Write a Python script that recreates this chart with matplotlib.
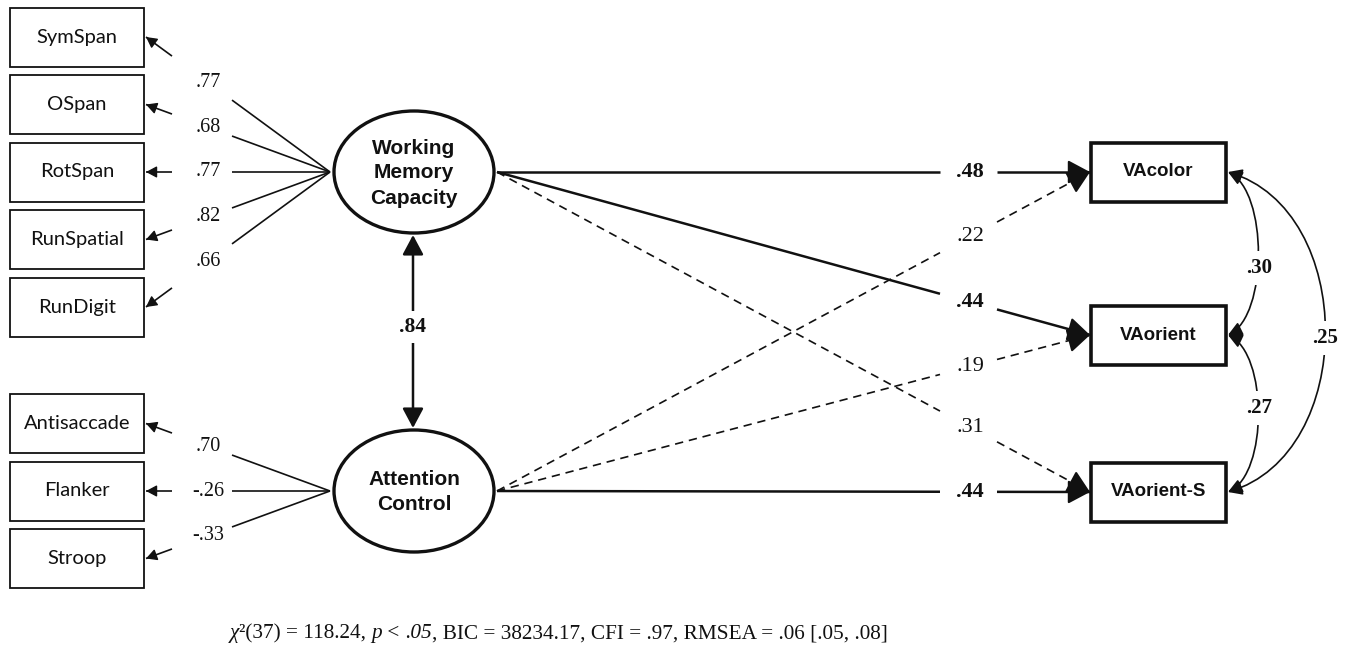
import matplotlib
matplotlib.use('Agg')
import matplotlib.pyplot as plt
from matplotlib.patches import Rectangle, Ellipse, FancyArrowPatch
from matplotlib.path import Path
import numpy as np

# measurement model
wmc_tasks = ['SymSpan', 'OSpan', 'RotSpan', 'RunSpatial', 'RunDigit']
wmc_loadings = [0.77, 0.68, 0.77, 0.82, 0.66]
ac_tasks = ['Antisaccade', 'Flanker', 'Stroop']
ac_loadings = [0.70, -0.26, -0.33]

# structural model
outcomes = ['VAcolor', 'VAorient', 'VAorient-S']
wmc_paths = [0.48, 0.44, 0.31]
wmc_sig = [True, True, False]
ac_paths = [0.22, 0.19, 0.44]
ac_sig = [False, False, True]
latent_corr = 0.84
# residual covariances: color-orient, orient-orientS, color-orientS
resid_cov = [0.30, 0.27, 0.25]

# fit statistics line, split where the font style changes
fit_parts = [('χ', 'italic'), ('²(37) = 118.24, ', 'normal'), ('p', 'italic'),
             (' < ', 'normal'), ('.05', 'italic'),
             (', BIC = 38234.17, CFI = .97, RMSEA = .06 [.05, .08]', 'normal')]

INK = '#111111'
SERIF = 'Liberation Serif'
BOLD_SANS = 'Liberation Sans'


def fmt(v):
    s = f'{abs(v):.2f}'[1:]
    return '-' + s if v < 0 else s


def head(ax, p_from, p_to, size=1.0, lw=1.5):
    # short solid segment that only carries the arrowhead
    d = np.subtract(p_to, p_from)
    d = d / np.hypot(*d)
    start = np.asarray(p_to) - d * 3
    a = FancyArrowPatch(start, p_to,
                        arrowstyle=f'-|>,head_length={0.75*size},head_width={0.4*size}',
                        mutation_scale=14, lw=lw, color=INK,
                        shrinkA=0, shrinkB=0, zorder=4)
    ax.add_patch(a)


def split_path(ax, p0, p1, label, x_label, gap_l, gap_r, lw, ls, bold,
               fs=13, hsize=1.0, hlw=1.5):
    # straight line p0 -> p1 interrupted at x_label by the coefficient
    x0, y0 = p0
    x1, y1 = p1

    def at(x):
        t = (x - x0) / (x1 - x0)
        return x, y0 + t * (y1 - y0)

    going_right = x1 > x0
    xa = x_label - gap_l if going_right else x_label + gap_r
    xb = x_label + gap_r if going_right else x_label - gap_l
    pa, pb = at(xa), at(xb)
    ax.plot([x0, pa[0]], [y0, pa[1]], color=INK, lw=lw, ls=ls,
            solid_capstyle='butt', zorder=3)
    ax.plot([pb[0], x1], [pb[1], y1], color=INK, lw=lw, ls=ls,
            solid_capstyle='butt', zorder=3)
    head(ax, pb, p1, size=hsize, lw=hlw)
    lx, ly = at(x_label)
    ax.text(lx, ly, label, ha='center', va='center', fontsize=fs,
            family=SERIF, fontweight='bold' if bold else 'normal', color=INK)


fig = plt.figure(figsize=(13.47, 6.6), dpi=100)
ax = fig.add_axes([0, 0, 1, 1])
ax.set_xlim(0, 1347)
ax.set_ylim(660, 0)
ax.axis('off')

# indicator boxes on the left
box_x, box_w, box_h = 10, 134, 59
wmc_y = [37 + 67.5 * i for i in range(len(wmc_tasks))]
ac_y = [423.5 + 67.5 * i for i in range(len(ac_tasks))]

for names, ys in [(wmc_tasks, wmc_y), (ac_tasks, ac_y)]:
    for name, yc in zip(names, ys):
        ax.add_patch(Rectangle((box_x, yc - box_h / 2), box_w, box_h,
                               fill=False, lw=1.3, ec=INK, zorder=2))
        ax.text(box_x + box_w / 2, yc, name, ha='center', va='center',
                fontsize=14.5, family='Lato', color=INK)

# latent factors
lat_x = 414
wmc_c = (lat_x, 172)
ac_c = (lat_x, 491)
ell_w, ell_h = 160, 122
for (cx, cy), txt in [(wmc_c, 'Working\nMemory\nCapacity'),
                      (ac_c, 'Attention\nControl')]:
    ax.add_patch(Ellipse((cx, cy), ell_w, ell_h, fill=False, lw=2.4,
                         ec=INK, zorder=3))
    ax.text(cx, cy + 1, txt, ha='center', va='center', fontsize=15,
            family=BOLD_SANS, fontweight='bold', linespacing=1.4, color=INK)

# loadings: latent -> indicators
hub_x = 330
for cy, ys, loads in [(wmc_c[1], wmc_y, wmc_loadings),
                      (ac_c[1], ac_y, ac_loadings)]:
    for yc, v in zip(ys, loads):
        split_path(ax, (hub_x, cy), (box_x + box_w + 2, yc), fmt(v), 208,
                   36, 24, lw=1.2, ls='-', bold=False, fs=14.5,
                   hsize=0.62, hlw=1.0)

# latent correlation
y_top = wmc_c[1] + ell_h / 2 + 2
y_bot = ac_c[1] - ell_h / 2 - 2
ax.add_patch(FancyArrowPatch((lat_x - 1, y_top), (lat_x - 1, y_bot),
                             arrowstyle='<|-|>,head_length=0.75,head_width=0.4',
                             mutation_scale=16, lw=1.8, color=INK,
                             shrinkA=0, shrinkB=0, zorder=4))
ax.text(lat_x - 1, 327, fmt(latent_corr), ha='center', va='center',
        fontsize=15.5, family=SERIF, fontweight='bold', color=INK,
        bbox=dict(fc='white', ec='none', pad=4), zorder=5)

# outcome boxes on the right
out_x, out_w, out_h = 1091, 135, 59
out_y = [172, 335, 492]
for name, yc in zip(outcomes, out_y):
    ax.add_patch(Rectangle((out_x, yc - out_h / 2), out_w, out_h,
                           fill=False, lw=2.6, ec=INK, zorder=2))
    ax.text(out_x + out_w / 2, yc, name, ha='center', va='center',
            fontsize=13.5, family=BOLD_SANS, fontweight='bold', color=INK)

# structural paths
src_x = lat_x + ell_w / 2 + 3
for cy, coefs, sig in [(wmc_c[1], wmc_paths, wmc_sig),
                       (ac_c[1], ac_paths, ac_sig)]:
    for yc, v, s in zip(out_y, coefs, sig):
        split_path(ax, (src_x, cy), (out_x - 1, yc), fmt(v), 970, 30, 27,
                   lw=1.8 if s else 1.2,
                   ls='-' if s else (0, (5, 3.5)),
                   bold=s, fs=16, hsize=1.3, hlw=1.5)

# residual covariances between outcomes
rx = out_x + out_w + 2


def cov_curve(y0, y1, bulge, lbl, ly, lx):
    cxp = (bulge - 0.25 * rx) / 0.75
    verts = [(rx, y0), (cxp, y0 + (y1 - y0) * 0.12),
             (cxp, y1 - (y1 - y0) * 0.12), (rx, y1)]
    path = Path(verts, [Path.MOVETO, Path.CURVE4, Path.CURVE4, Path.CURVE4])
    ax.add_patch(FancyArrowPatch(path=path,
                                 arrowstyle='<|-|>,head_length=0.6,head_width=0.3',
                                 mutation_scale=14, lw=1.2, color=INK,
                                 shrinkA=0, shrinkB=0, zorder=3))
    ax.text(lx, ly, lbl, ha='center', va='center', fontsize=15,
            family=SERIF, fontweight='bold', color=INK,
            bbox=dict(fc='white', ec='none', pad=5), zorder=5)


cov_curve(out_y[0], out_y[1], 1258, fmt(resid_cov[0]), 268, 1259)
cov_curve(out_y[1], out_y[2], 1258, fmt(resid_cov[1]), 408, 1259)
cov_curve(out_y[0], out_y[2], 1325, fmt(resid_cov[2]), 338, 1325)

# model fit, pieces chained left to right
prev = None
for txt, style in fit_parts:
    kw = dict(fontsize=15.3, family=SERIF, fontstyle=style, color=INK,
              ha='left', va='bottom')
    if prev is None:
        prev = ax.text(230, 643, txt, **kw)
    else:
        prev = ax.annotate(txt, xy=(1, 0), xycoords=prev, **kw)

fig.savefig('out.png', dpi=100)
